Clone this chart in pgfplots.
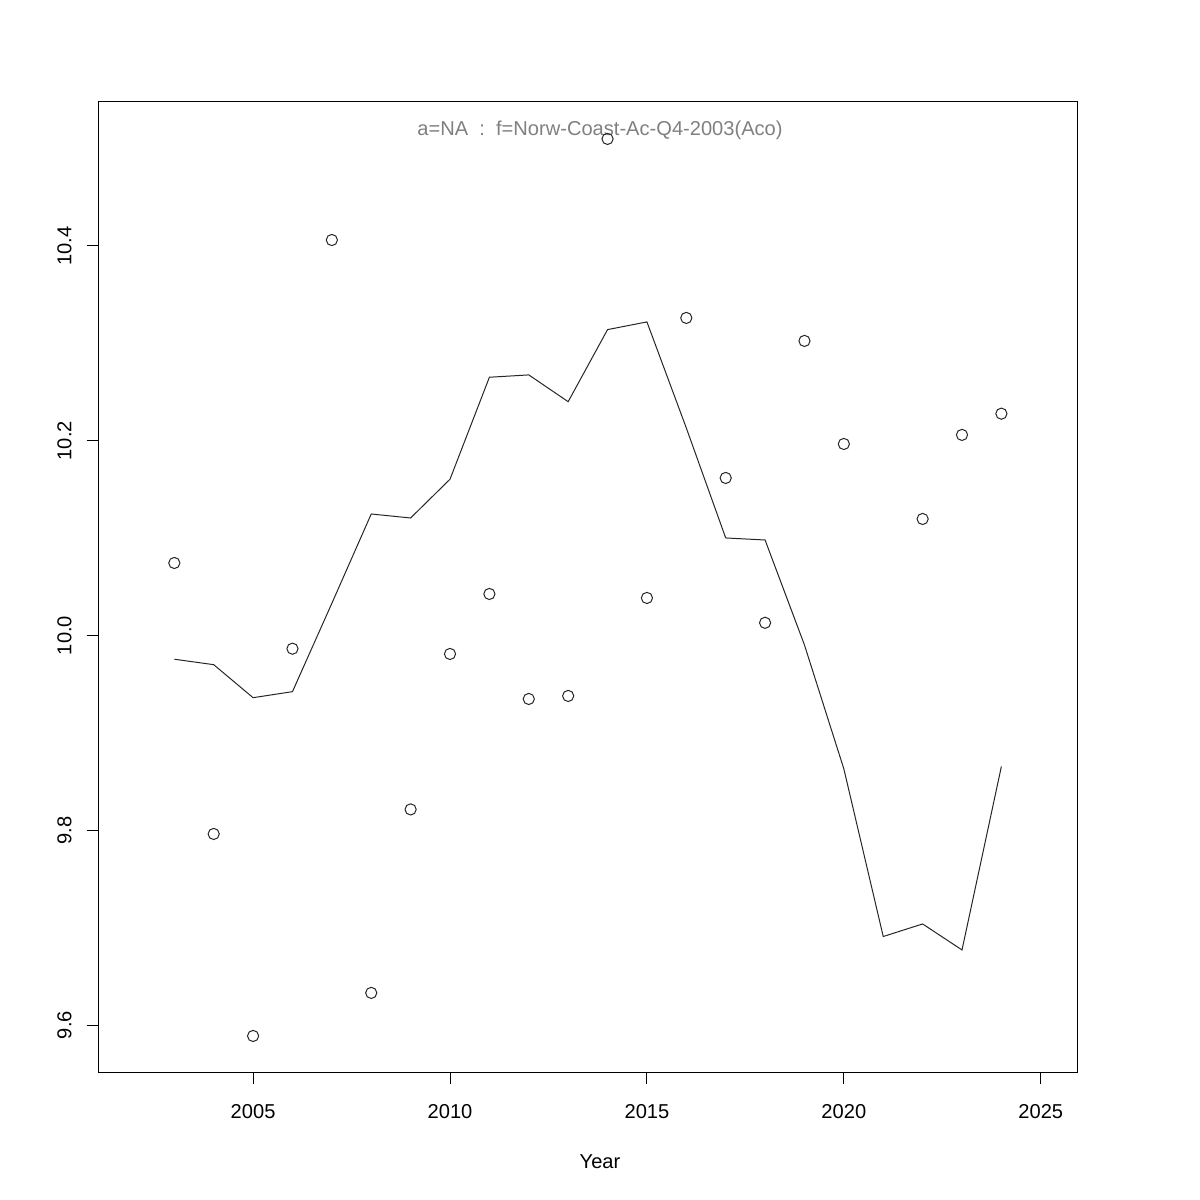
\documentclass[border=0pt]{standalone}
\usepackage{fontspec}
\setmainfont{Liberation Sans}
\usepackage{pgfplots}
\pgfplotsset{compat=1.18}
\begin{document}
\fontsize{10.05}{12}\selectfont
\begin{tikzpicture}
\useasboundingbox (-49.35pt,-64pt) rectangle (550.65pt,536pt);
\begin{axis}[
  at={(0,0)}, anchor=south west,
  scale only axis, width=489.15pt, height=485pt,
  xmin=2001.08, xmax=2025.92, ymin=9.5518, ymax=10.5477,
  xtick={2005,2010,2015,2020,2025},
  ytick={9.6,9.8,10.0,10.2,10.4},
  yticklabels={9.6,9.8,10.0,10.2,10.4},
  xticklabels={2005,2010,2015,2020,2025},
  tick align=outside, major tick length=6pt,
  xtick pos=bottom, ytick pos=left,
  tick style={black, line width=0.5pt},
  axis line style={black, line width=0.5pt},
  /pgf/number format/assume math mode=true,
  ticklabel style={font=\fontsize{10.05}{12}\selectfont},
  yticklabel style={rotate=90, anchor=south},
  yticklabel shift=4pt,
  xticklabel shift=6.5pt,
  xlabel={Year},
  xlabel style={at={(axis description cs:0.5124,0)}, anchor=center, yshift=-45pt, font=\fontsize{10.05}{12}\selectfont},
  clip=false,
]
\addplot[black!85, line width=0.5pt, mark=none] coordinates {
(2003,9.9756) (2004,9.970) (2005,9.9361) (2006,9.9423) (2007,10.033)
(2008,10.1247) (2009,10.1206) (2010,10.1604) (2011,10.2651) (2012,10.2675)
(2013,10.240) (2014,10.314) (2015,10.3219) (2016,10.213) (2017,10.1001)
(2018,10.098) (2019,9.9902) (2020,9.863) (2021,9.6909) (2022,9.7038)
(2023,9.6771) (2024,9.8655)
};
\addplot[only marks, mark=o, mark size=2.8pt, mark options={black!85, line width=0.5pt}] coordinates {
(2003,10.0744) (2004,9.7962) (2005,9.5888) (2006,9.9864) (2007,10.406)
(2008,9.633) (2009,9.8214) (2010,9.981) (2011,10.0426) (2012,9.9348)
(2013,9.9379) (2014,10.5098) (2015,10.0385) (2016,10.326) (2017,10.1617)
(2018,10.013) (2019,10.3024) (2020,10.1966) (2022,10.1196) (2023,10.2059)
(2024,10.2277)
};
\node[text=black!50, anchor=center, font=\fontsize{10.05}{12}\selectfont] at (axis description cs:0.5124,0.9712) {a=NA\ \ :\ \ f=Norw-Coast-Ac-Q4-2003(Aco)};
\end{axis}
\end{tikzpicture}
\end{document}
